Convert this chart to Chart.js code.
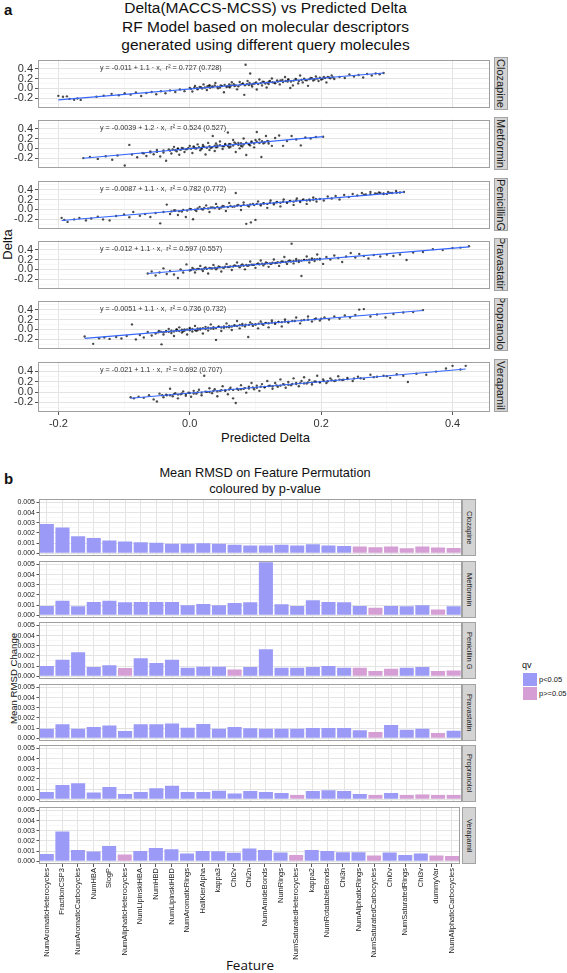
<!DOCTYPE html>
<html>
<head>
<meta charset="utf-8">
<script src="https://cdn.jsdelivr.net/npm/chart.js@4.4.1/dist/chart.umd.min.js"></script>
<style>
  body { margin: 0; width: 567px; height: 973px; position: relative; background: #fff; overflow: hidden;
         font-family: "Liberation Sans", Arial, sans-serif; color: #111; }
  canvas { position: absolute; }
  .txt { position: absolute; white-space: nowrap; }
  .strip { position: absolute; background: #d4d4d4; border: 1px solid #a3a3a3; box-sizing: border-box;
           writing-mode: vertical-rl; overflow: hidden; color: #1a1a1a;
           display: flex; align-items: center; justify-content: center; }
  .sw { position: absolute; width: 14px; height: 13px; }
</style>
</head>
<body>

<div class="txt" style="left:4px;top:1px;font-size:15px;font-weight:bold">a</div>
<div class="txt" style="left:0;top:-1px;width:531px;text-align:center;font-size:15.5px;line-height:18.5px;white-space:normal">
  Delta(MACCS-MCSS) vs Predicted Delta<br>RF Model based on molecular descriptors<br>generated using different query molecules
</div>
<div class="txt" style="left:0;top:430px;width:531px;text-align:center;font-size:13px">Predicted Delta</div>
<div class="txt" style="left:-13px;top:237px;width:40px;text-align:center;font-size:13px;transform:rotate(-90deg)">Delta</div>

<div class="txt" style="left:4px;top:470px;font-size:15px;font-weight:bold">b</div>
<div class="txt" style="left:0;top:465px;width:530px;text-align:center;font-size:12.8px;line-height:16px;white-space:normal">
  Mean RMSD on Feature Permutation<br>coloured by p-value
</div>
<div class="txt" style="left:-37px;top:673px;width:100px;text-align:center;font-size:9.6px;transform:rotate(-90deg)">Mean RMSD Change</div>
<div class="txt" style="left:0;top:956px;width:500px;text-align:center;font-size:13.5px;font-family:'Open Sans',sans-serif">Feature</div>

<div class="txt" style="left:522px;top:660px;font-size:9px">qv</div>
<div class="sw" style="left:523px;top:673px;background:#9b9bf7"></div>
<div class="sw" style="left:523px;top:687px;background:#d59ed5"></div>
<div class="txt" style="left:539px;top:675px;font-size:7.5px">p&lt;0.05</div>
<div class="txt" style="left:539px;top:689px;font-size:7.5px">p&gt;=0.05</div>

<script>
// ---------- panel a data ----------
const queries = ["Clozapine", "Metformin", "PenicillinG", "Pravastatin", "Propranolol", "Verapamil"];
const queryStrips = ["Clozapine", "Metformin", "Penicillin G", "Pravastatin", "Propranolol", "Verapamil"];
const eqTexts = [
  "y = -0.011 + 1.1 · x,  r² = 0.727 (0.728)",
  "y = -0.0039 + 1.2 · x,  r² = 0.524 (0.527)",
  "y = -0.0087 + 1.1 · x,  r² = 0.782 (0.772)",
  "y = -0.012 + 1.1 · x,  r² = 0.597 (0.557)",
  "y = -0.0051 + 1.1 · x,  r² = 0.736 (0.732)",
  "y = -0.021 + 1.1 · x,  r² = 0.692 (0.707)"
];
const xTicksA = [-0.2, 0.0, 0.2, 0.4];
const yTicksA = [-0.2, 0.0, 0.2, 0.4];

const clozapinePts = [[-0.200,-0.150],[-0.193,-0.168],[-0.187,-0.160],[-0.183,-0.212],[-0.176,-0.228],[-0.171,-0.205],[-0.166,-0.232],
  [-0.142,-0.168],[-0.131,-0.148],[-0.119,-0.110],[-0.108,-0.138],[-0.099,-0.098],[-0.090,-0.126],[-0.082,-0.082],[-0.074,-0.152],
  [-0.066,-0.092],[-0.058,-0.072],[-0.051,-0.118],[-0.044,-0.058],[-0.037,-0.098],[-0.030,-0.040],[-0.022,-0.072],[-0.015,-0.020],
  [-0.008,-0.055],[0.000,0.012],[0.004,-0.062],[0.008,0.048],[0.012,-0.018],[0.017,0.024],[0.021,0.082],[0.026,-0.032],[0.030,0.058],
  [0.034,0.040],[0.039,0.112],[0.043,0.002],[0.047,0.062],[0.052,-0.078],[0.056,0.030],[0.060,0.082],[0.064,0.124],[0.068,0.050],
  [0.072,-0.018],[0.076,0.132],[0.080,0.092],[0.083,-0.130],[0.085,0.480],[0.088,0.152],[0.092,0.302],[0.095,0.040],[0.099,0.102],
  [0.102,-0.022],[0.106,0.182],[0.110,0.062],[0.113,0.132],[0.117,0.020],[0.121,0.142],[0.125,0.202],[0.129,0.112],[0.133,0.162],
  [0.137,0.082],[0.141,0.172],[0.145,0.232],[0.149,0.142],[0.153,0.010],[0.157,0.062],[0.161,0.192],[0.165,0.102],[0.168,0.262],
  [0.172,0.122],[0.176,0.172],[0.180,0.052],[0.184,0.212],[0.188,0.162],[0.192,0.242],[0.196,0.152],[0.200,0.182],[0.204,0.232],
  [0.208,0.122],[0.212,0.222],[0.216,0.262],[0.220,0.192],[0.030,0.060],[0.060,0.040],[0.090,0.070],[0.120,0.090],[0.150,0.180],
  [0.228,0.232],[0.236,0.212],[0.243,0.282],[0.250,0.242],[0.257,0.272],[0.264,0.222],[0.270,0.292],[0.277,0.262],[0.283,0.302],
  [0.289,0.288],[0.295,0.312],
  [0.002,-0.008],[0.007,0.015],[0.011,0.003],[0.015,0.030],[0.019,-0.002],[0.023,0.020],[0.027,0.045],[0.031,0.012],[0.035,0.028],
  [0.038,0.060],[0.042,0.035],[0.046,0.018],[0.049,0.048],[0.053,0.070],[0.057,0.042],[0.061,0.025],[0.063,0.058],[0.067,0.085],
  [0.070,0.062],[0.074,0.045],[0.077,0.078],[0.081,0.102],[0.084,0.066],[0.087,0.088],[0.091,0.112],[0.094,0.075],[0.097,0.095],
  [0.101,0.120],[0.104,0.088],[0.108,0.108],[0.111,0.135],[0.115,0.098],[0.118,0.118],[0.122,0.150],[0.126,0.125],[0.130,0.105],
  [0.134,0.138],[0.138,0.160],[0.142,0.128],[0.146,0.150],[0.150,0.175],[0.154,0.140],[0.158,0.158],[0.162,0.182],[0.166,0.150],
  [0.170,0.172],[0.174,0.198],[0.178,0.165],[0.182,0.188],[0.186,0.205],[0.190,0.180],[0.194,0.198],[0.198,0.215],[0.202,0.192],
  [0.206,0.210],[0.210,0.232],[0.214,0.205],[0.218,0.225]];
const metforminPts = [[-0.162,-0.196],[-0.152,-0.172],[-0.140,-0.212],[-0.128,-0.158],[-0.118,-0.228],[-0.110,-0.142],[-0.099,-0.345],
  [-0.092,0.072],[-0.088,-0.122],[-0.080,-0.178],[-0.072,-0.092],[-0.066,-0.152],[-0.060,-0.062],[-0.055,-0.118],[-0.050,-0.032],
  [-0.045,-0.162],[-0.040,-0.082],[-0.036,-0.248],[-0.032,-0.022],[-0.028,-0.102],[-0.024,0.032],[-0.020,-0.058],[-0.016,-0.128],
  [-0.012,0.012],[-0.008,-0.072],[-0.004,-0.012],[0.000,0.052],[0.004,-0.092],[0.008,0.002],[0.012,0.082],[0.016,-0.038],[0.020,0.032],
  [0.024,-0.122],[0.028,0.112],[0.032,0.012],[0.035,0.252],[0.038,-0.052],[0.042,0.062],[0.046,0.142],[0.050,-0.012],[0.054,0.092],
  [0.058,0.322],[0.062,0.032],[0.066,0.172],[0.070,-0.072],[0.074,0.112],[0.078,0.052],[0.082,0.202],[0.086,-0.132],[0.090,0.082],
  [0.094,0.142],[0.098,0.022],[0.102,0.332],[0.106,0.182],[0.109,-0.172],[0.112,0.102],[0.116,0.252],[0.120,0.142],[0.125,0.052],
  [0.130,0.212],[0.136,0.262],[0.142,0.052],[0.148,0.152],[0.155,0.252],[0.162,0.182],[0.169,0.062],[0.176,0.222],[0.184,0.202],
  [0.192,0.232],[0.203,0.236],[-0.018,0.002],[0.006,0.042],[0.018,-0.008],[0.040,0.022],[0.060,0.092],[0.076,0.002],[0.092,0.062],
  [0.030,-0.032],[0.052,0.042],[0.068,0.122],
  [-0.030,-0.045],[-0.026,-0.020],[-0.022,-0.035],[-0.018,-0.010],[-0.014,-0.030],[-0.010,0.000],[-0.006,-0.018],[-0.002,0.010],
  [0.002,-0.005],[0.006,0.018],[0.010,0.000],[0.014,0.025],[0.018,0.008],[0.022,0.035],[0.026,0.015],[0.030,0.045],[0.034,0.022],
  [0.038,0.055],[0.042,0.030],[0.046,0.068],[0.050,0.045],[0.054,0.075],[0.058,0.050],[0.062,0.088],[0.066,0.060],[0.070,0.095],
  [0.074,0.070],[0.078,0.105],[0.082,0.080],[0.086,0.115],[0.090,0.090],[0.094,0.125],[0.098,0.100],[0.102,0.135],[0.106,0.110],
  [0.110,0.145],[0.114,0.120],[0.118,0.150],[-0.060,-0.080],[-0.050,-0.070],[-0.070,-0.100],[-0.040,-0.040],[0.020,0.070],
  [0.040,0.100],[0.060,0.020],[0.080,0.040],[0.100,0.170],[0.120,0.100]];
const penicillinPts = [[-0.195,-0.170],[-0.191,-0.212],[-0.186,-0.252],[-0.176,-0.202],[-0.168,-0.172],[-0.158,-0.222],[-0.150,-0.182],
  [-0.140,-0.148],[-0.132,-0.202],[-0.122,-0.222],[-0.112,-0.132],[-0.100,-0.102],[-0.092,-0.158],[-0.086,-0.052],[-0.076,-0.128],
  [-0.068,-0.092],[-0.060,-0.152],[-0.052,-0.072],[-0.045,-0.282],[-0.040,-0.052],[-0.035,0.098],[-0.030,-0.092],[-0.024,-0.022],
  [-0.018,-0.112],[-0.012,-0.042],[-0.006,-0.152],[0.000,0.012],[0.005,-0.198],[0.010,-0.032],[0.015,0.052],[0.020,-0.002],[0.025,0.082],
  [0.030,-0.052],[0.035,0.042],[0.040,0.112],[0.045,0.012],[0.050,0.072],[0.055,-0.032],[0.060,0.132],[0.065,0.052],[0.070,0.332],
  [0.074,0.092],[0.078,-0.012],[0.082,0.142],[0.086,-0.292],[0.090,0.062],[0.093,-0.262],[0.096,0.112],[0.100,-0.212],[0.104,0.162],
  [0.108,0.082],[0.113,0.122],[0.118,0.032],[0.123,0.182],[0.128,0.102],[0.133,0.152],[0.138,0.062],[0.143,0.202],[0.148,0.132],
  [0.153,0.172],[0.158,0.092],[0.163,0.222],[0.168,0.152],[0.173,0.202],[0.178,0.112],[0.183,0.182],[0.188,0.242],[0.193,0.162],
  [0.198,0.212],[0.204,0.182],[0.210,0.262],[0.216,0.222],[0.222,0.272],[0.228,0.202],[0.235,0.292],[0.242,0.252],[0.248,0.312],
  [0.255,0.282],[0.262,0.332],[0.268,0.302],[0.275,0.352],[0.282,0.322],[0.288,0.342],[0.295,0.312],[0.302,0.352],[0.308,0.332],
  [0.314,0.372],[0.320,0.342],[0.326,0.352],
  [-0.028,-0.040],[-0.022,-0.020],[-0.016,-0.035],[-0.010,-0.008],[-0.004,-0.020],[0.002,0.005],[0.008,-0.005],[0.012,0.020],
  [0.018,0.008],[0.022,0.030],[0.028,0.018],[0.032,0.040],[0.038,0.028],[0.042,0.050],[0.048,0.038],[0.052,0.062],[0.058,0.048],
  [0.062,0.070],[0.068,0.058],[0.072,0.080],[0.078,0.070],[0.082,0.092],[0.088,0.080],[0.092,0.102],[0.098,0.090],[0.102,0.112],
  [0.108,0.100],[0.112,0.125],[0.118,0.112],[0.122,0.135],[0.128,0.125],[0.132,0.145],[0.138,0.135],[0.142,0.158],[0.148,0.148],
  [0.152,0.168],[0.158,0.158],[0.162,0.180],[0.168,0.170],[0.172,0.190],[0.178,0.182],[0.182,0.200],[0.188,0.195],[0.192,0.212],
  [0.265,0.300],[0.275,0.310],[0.285,0.318],[0.295,0.325],[0.305,0.335],[0.315,0.340],[0.300,0.315],[0.290,0.335]];
const pravastatinPts = [[-0.064,-0.082],[-0.058,-0.042],[-0.052,-0.122],[-0.046,-0.062],[-0.040,0.022],[-0.035,-0.092],[-0.030,-0.032],
  [-0.024,-0.102],[-0.018,-0.172],[-0.014,0.002],[-0.010,-0.062],[-0.005,0.102],[0.000,-0.022],[0.004,0.032],[0.008,-0.062],[0.012,0.012],
  [0.016,0.072],[0.020,-0.032],[0.024,0.042],[0.028,-0.082],[0.032,0.022],[0.036,0.092],[0.040,0.002],[0.044,0.062],[0.048,-0.042],
  [0.052,0.032],[0.056,0.112],[0.060,0.052],[0.064,-0.012],[0.068,0.082],[0.072,0.142],[0.076,0.042],[0.080,0.102],[0.084,0.002],
  [0.088,0.072],[0.092,0.162],[0.096,0.092],[0.100,0.032],[0.104,0.122],[0.108,0.182],[0.112,0.082],[0.116,0.142],[0.120,0.052],
  [0.124,0.112],[0.128,0.202],[0.132,0.132],[0.136,0.072],[0.140,0.162],[0.144,0.252],[0.148,0.112],[0.152,0.182],[0.155,0.522],
  [0.158,0.122],[0.162,0.212],[0.166,0.152],[0.170,-0.132],[0.174,0.192],[0.178,0.262],[0.182,0.142],[0.186,0.222],[0.190,0.172],
  [0.194,0.302],[0.198,0.202],[0.203,0.112],[0.208,0.252],[0.214,0.202],[0.220,0.282],[0.226,0.232],[0.232,0.152],[0.238,0.262],
  [0.245,0.332],[0.252,0.242],[0.258,0.312],[0.265,0.272],[0.272,0.222],[0.280,0.292],[0.290,0.262],[0.300,0.302],[0.310,0.272],
  [0.320,0.302],[0.330,0.192],[0.340,0.342],[0.355,0.352],[0.370,0.412],[0.385,0.392],[0.400,0.432],[0.412,0.442],[0.425,0.472],
  [0.002,-0.010],[0.006,0.005],[0.010,-0.002],[0.014,0.010],[0.018,0.002],[0.022,0.018],[0.026,0.012],[0.030,0.028],[0.034,0.020],
  [0.038,0.035],[0.042,0.030],[0.046,0.045],[0.050,0.038],[0.054,0.055],[0.058,0.048],[0.062,0.062],[0.066,0.058],[0.070,0.072],
  [0.074,0.068],[0.078,0.080],[0.082,0.075],[0.086,0.090],[0.090,0.085],[0.094,0.098],[0.098,0.095],[0.102,0.108],[0.106,0.102],
  [0.110,0.118],[0.114,0.112],[0.118,0.125],[0.122,0.122],[0.126,0.135],[0.130,0.130],[0.134,0.145],[0.138,0.140],[0.142,0.155],
  [0.146,0.150],[0.150,0.165],[0.154,0.160],[0.158,0.172],[0.162,0.170],[0.166,0.182],[0.170,0.178],[0.174,0.190],[0.178,0.188],
  [0.182,0.198],[0.186,0.195],[0.190,0.208],[0.194,0.205],[0.198,0.215]];
const propranololPts = [[-0.160,-0.142],[-0.147,-0.292],[-0.138,-0.178],[-0.130,-0.162],[-0.122,-0.192],[-0.112,-0.152],[-0.104,-0.182],
  [-0.096,-0.132],[-0.088,0.102],[-0.082,-0.202],[-0.076,-0.112],[-0.070,-0.162],[-0.064,-0.052],[-0.058,-0.122],[-0.052,-0.082],
  [-0.047,-0.032],[-0.043,-0.302],[-0.040,-0.102],[-0.036,-0.042],[-0.032,0.012],[-0.028,-0.072],[-0.024,-0.132],[-0.020,-0.022],
  [-0.016,0.042],[-0.012,-0.062],[-0.008,0.002],[-0.004,-0.102],[0.000,0.032],[0.004,-0.042],[0.008,0.072],[0.012,-0.012],[0.016,0.022],
  [0.020,-0.082],[0.024,0.052],[0.028,-0.022],[0.032,0.102],[0.036,0.012],[0.040,-0.212],[0.044,0.062],[0.048,-0.032],[0.052,0.032],
  [0.056,0.122],[0.060,0.042],[0.064,-0.012],[0.068,0.082],[0.072,0.172],[0.076,0.022],[0.080,0.112],[0.084,0.062],[0.089,-0.152],
  [0.092,0.142],[0.096,0.072],[0.100,0.102],[0.104,0.022],[0.108,0.162],[0.112,0.092],[0.116,0.132],[0.120,0.042],[0.125,0.182],
  [0.130,0.112],[0.135,0.152],[0.140,0.062],[0.145,0.202],[0.150,0.142],[0.156,0.172],[0.162,0.242],[0.168,0.122],[0.174,0.192],
  [0.180,0.262],[0.186,0.162],[0.192,0.222],[0.198,0.182],[0.205,0.242],[0.212,0.202],[0.220,0.262],[0.228,0.222],[0.236,0.282],
  [0.244,0.242],[0.252,0.292],[0.258,0.402],[0.265,0.412],[0.275,0.262],[0.285,0.302],[0.298,0.242],[0.310,0.312],[0.325,0.342],
  [0.340,0.352],[0.355,0.392],
  [-0.048,-0.060],[-0.044,-0.045],[-0.040,-0.055],[-0.036,-0.035],[-0.032,-0.048],[-0.028,-0.025],[-0.024,-0.040],[-0.020,-0.015],
  [-0.016,-0.032],[-0.012,-0.005],[-0.008,-0.025],[-0.004,0.000],[0.000,-0.018],[0.004,0.008],[0.008,-0.010],[0.012,0.018],
  [0.016,0.000],[0.020,0.025],[0.024,0.010],[0.028,0.035],[0.032,0.020],[0.036,0.045],[0.040,0.030],[0.044,0.052],[0.048,0.040],
  [0.052,0.062],[0.056,0.050],[0.060,0.072],[0.064,0.060],[0.068,0.080],[0.072,0.070],[0.076,0.090],[0.080,0.080],[0.085,0.098],
  [0.090,0.092],[0.095,0.108],[0.100,0.102],[0.105,0.118],[0.110,0.115],[0.115,0.128],[0.120,0.125],[0.125,0.140],[0.130,0.135],
  [0.135,0.150],[0.140,0.148],[0.145,0.160],[0.150,0.158],[0.160,0.172],[0.170,0.182],[0.180,0.195],[0.190,0.205],[0.200,0.218],
  [-0.020,0.005],[-0.010,-0.040],[0.000,0.010],[0.010,-0.030]];
const verapamilPts = [[-0.090,-0.102],[-0.085,-0.122],[-0.078,-0.092],[-0.070,-0.112],[-0.062,-0.062],[-0.055,-0.142],[-0.050,-0.182],
  [-0.046,-0.032],[-0.040,-0.102],[-0.035,-0.062],[-0.030,0.062],[-0.026,-0.082],[-0.022,-0.022],[-0.018,-0.122],[-0.014,-0.042],
  [-0.010,0.012],[-0.006,-0.072],[-0.002,-0.012],[0.002,-0.092],[0.006,0.022],[0.010,-0.032],[0.014,0.042],[0.018,-0.062],[0.022,0.312],
  [0.026,0.002],[0.030,0.072],[0.034,-0.022],[0.038,0.052],[0.042,-0.082],[0.046,0.022],[0.050,0.112],[0.054,0.032],[0.058,-0.042],
  [0.062,0.082],[0.066,-0.122],[0.070,-0.212],[0.074,0.042],[0.078,0.132],[0.082,0.062],[0.086,-0.012],[0.090,0.102],[0.094,0.172],
  [0.098,0.052],[0.102,0.122],[0.106,0.022],[0.110,0.152],[0.114,0.092],[0.118,0.212],[0.122,0.122],[0.126,0.062],[0.130,0.172],
  [0.134,0.102],[0.138,0.242],[0.142,0.152],[0.146,0.082],[0.150,0.192],[0.154,0.132],[0.158,0.262],[0.162,0.172],[0.166,0.112],
  [0.170,0.212],[0.174,0.282],[0.178,0.162],[0.182,0.232],[0.186,0.142],[0.190,0.202],[0.194,0.312],[0.198,0.182],[0.203,0.242],
  [0.208,0.172],[0.214,0.262],[0.220,0.212],[0.226,0.302],[0.232,0.232],[0.240,0.272],[0.248,0.212],[0.256,0.292],[0.265,0.252],
  [0.275,0.332],[0.285,0.292],[0.295,0.312],[0.305,0.272],[0.315,0.342],[0.325,0.312],[0.332,0.192],[0.345,0.352],[0.360,0.332],
  [0.375,0.392],[0.390,0.452],[0.400,0.502],[0.412,0.432],[0.420,0.502],
  [-0.042,-0.060],[-0.036,-0.050],[-0.030,-0.062],[-0.024,-0.040],[-0.018,-0.050],[-0.012,-0.030],[-0.006,-0.040],[0.000,-0.018],
  [0.006,-0.028],[0.012,-0.005],[0.018,-0.012],[0.024,0.008],[0.030,0.000],[0.036,0.022],[0.042,0.012],[0.048,0.035],[0.054,0.025],
  [0.060,0.048],[0.066,0.040],[0.072,0.062],[0.078,0.052],[0.084,0.075],[0.090,0.068],[0.096,0.088],[0.102,0.080],[0.108,0.102],
  [0.114,0.095],[0.120,0.115],[0.126,0.110],[0.132,0.128],[0.138,0.122],[0.144,0.142],[0.150,0.138],[0.156,0.155],[0.162,0.152],
  [0.168,0.170],[0.174,0.165],[0.180,0.185],[0.186,0.180],[0.192,0.198],[0.198,0.195],[0.204,0.212],[0.210,0.208],[0.216,0.225],
  [0.222,0.222],[0.228,0.238],[0.234,0.235],[0.240,0.250],[0.250,0.258],[0.260,0.265],[0.280,0.285],[0.300,0.305]];
const scatterSets = [clozapinePts, metforminPts, penicillinPts, pravastatinPts, propranololPts, verapamilPts];

// fitted lines, end points
const fitLines = [
  [[-0.200,-0.231],[0.295,0.313]],
  [[-0.162,-0.198],[0.203,0.240]],
  [[-0.195,-0.223],[0.326,0.350]],
  [[-0.064,-0.082],[0.425,0.456]],
  [[-0.160,-0.181],[0.355,0.385]],
  [[-0.090,-0.120],[0.420,0.441]]
];

// ---------- panel b data ----------
const features = ["NumAromaticHeterocycles","FractionCSP3","NumAromaticCarbocycles","NumHBA","SlogP",
  "NumAliphaticHeterocycles","NumLipinskiHBA","NumHBD","NumLipinskiHBD","NumAromaticRings","HallKierAlpha",
  "kappa3","Chi2v","Chi2n","NumAmideBonds","NumRings","NumSaturatedHeterocycles","kappa2","NumRotatableBonds",
  "Chi3n","NumAliphaticRings","NumSaturatedCarbocycles","Chi0v","NumSaturatedRings","Chi3v","dummyVar",
  "NumAliphaticCarbocycles"];
const rmsdClozapine = [0.00287,0.00253,0.00167,0.00150,0.00126,0.00116,0.00109,0.00102,0.00092,0.00092,0.00099,0.00092,0.00082,0.00075,
  0.00075,0.00082,0.00075,0.00089,0.00075,0.00072,0.00065,0.00058,0.00065,0.00048,0.00065,0.00055,0.00051];
const rmsdMetformin = [0.00090,0.00143,0.00087,0.00130,0.00143,0.00127,0.00130,0.00130,0.00130,0.00097,0.00110,0.00097,0.00120,0.00127,
  0.00523,0.00107,0.00090,0.00147,0.00130,0.00127,0.00090,0.00073,0.00090,0.00087,0.00097,0.00057,0.00087];
const rmsdPenicillin = [0.00100,0.00163,0.00237,0.00090,0.00107,0.00080,0.00177,0.00130,0.00163,0.00083,0.00093,0.00093,0.00067,0.00090,
  0.00267,0.00083,0.00083,0.00090,0.00100,0.00083,0.00083,0.00050,0.00073,0.00083,0.00090,0.00050,0.00057];
const rmsdPravastatin = [0.00094,0.00138,0.00094,0.00110,0.00124,0.00070,0.00138,0.00138,0.00145,0.00104,0.00141,0.00094,0.00110,0.00097,
  0.00094,0.00094,0.00094,0.00100,0.00100,0.00100,0.00077,0.00060,0.00131,0.00084,0.00094,0.00050,0.00074];
const rmsdPropranolol = [0.00070,0.00140,0.00157,0.00067,0.00120,0.00050,0.00070,0.00107,0.00133,0.00070,0.00070,0.00083,0.00057,0.00080,
  0.00070,0.00060,0.00040,0.00080,0.00087,0.00080,0.00050,0.00040,0.00060,0.00040,0.00047,0.00040,0.00040];
const rmsdVerapamil = [0.00072,0.00294,0.00111,0.00095,0.00150,0.00065,0.00101,0.00131,0.00118,0.00075,0.00101,0.00098,0.00082,0.00124,
  0.00111,0.00085,0.00062,0.00111,0.00101,0.00088,0.00088,0.00056,0.00085,0.00062,0.00075,0.00056,0.00052];
const rmsdSets = [rmsdClozapine, rmsdMetformin, rmsdPenicillin, rmsdPravastatin, rmsdPropranolol, rmsdVerapamil];

// 1 = p<0.05, 0 = p>=0.05
const sigClozapine   = [1,1,1,1,1,1,1,1,1,1,1,1,1,1,1,1,1,1,1,1,0,0,0,0,0,0,0];
const sigMetformin   = [1,1,1,1,1,1,1,1,1,1,1,1,1,1,1,1,1,1,1,1,1,0,1,1,1,0,1];
const sigPenicillin  = [1,1,1,1,1,0,1,1,1,1,1,1,0,1,1,1,1,1,1,1,0,0,0,1,1,0,0];
const sigPravastatin = [1,1,1,1,1,1,1,1,1,1,1,1,1,1,1,1,1,1,1,1,1,0,1,1,1,0,1];
const sigPropranolol = [1,1,1,1,1,1,1,1,1,1,1,1,1,1,1,1,0,1,1,1,1,0,1,0,0,0,0];
const sigVerapamil   = [1,1,1,1,1,0,1,1,1,1,1,1,1,1,1,1,0,1,1,1,1,0,1,1,1,0,0];
const sigSets = [sigClozapine, sigMetformin, sigPenicillin, sigPravastatin, sigPropranolol, sigVerapamil];
const yTicksB = [0.000, 0.001, 0.002, 0.003, 0.004, 0.005];

// ---------- layout ----------
const BLUE = "#9b9bf7", PINK = "#d59ed5";
const GRID = "#e3e3e3", GRID_MINOR = "#f2f2f2";
const PAD = 6;

Chart.defaults.font.family = '"Liberation Sans", Arial, sans-serif';
Chart.defaults.color = "#333";

// grey frame round each panel
Chart.register({
  id: "frame",
  afterDraw(chart) {
    const a = chart.chartArea, ctx = chart.ctx;
    ctx.save();
    ctx.strokeStyle = "#a0a0a0";
    ctx.lineWidth = 1;
    ctx.strokeRect(Math.round(a.left) + 0.5, Math.round(a.top) + 0.5, Math.round(a.width) - 1, Math.round(a.height) - 1);
    ctx.restore();
  }
});

// regression label in the top left
const eqPlugin = {
  id: "eq",
  afterDatasetsDraw(chart, args, opts) {
    if (!opts.text) return;
    const ctx = chart.ctx, a = chart.chartArea;
    ctx.save();
    ctx.font = '7.2px "Liberation Sans", Arial, sans-serif';
    ctx.fillStyle = "#333";
    ctx.textBaseline = "middle";
    ctx.fillText(opts.text, a.left + 62, a.top + 8);
    ctx.restore();
  }
};

function makeCanvas(top, w, h) {
  const c = document.createElement("canvas");
  c.width = w; c.height = h;
  c.style.left = "0px"; c.style.top = top + "px";
  c.style.width = w + "px"; c.style.height = h + "px";
  document.body.appendChild(c);
  return c;
}

function makeStrip(left, top, w, h, text, size) {
  const d = document.createElement("div");
  d.className = "strip";
  d.style.left = left + "px"; d.style.top = top + "px";
  d.style.width = w + "px"; d.style.height = h + "px";
  d.style.fontSize = size + "px";
  d.textContent = text;
  document.body.appendChild(d);
}

const near = (v, list) => list.some(t => Math.abs(v - t) < 1e-9);

// ---------- panel a: six scatter facets ----------
queries.forEach((q, i) => {
  const top = Math.round(57 + i * 60.3);
  const last = i === queries.length - 1;
  const axisH = last ? 22 : 0;
  const cv = makeCanvas(top - PAD, 494, PAD + 53 + axisH + (last ? 0 : PAD));

  new Chart(cv, {
    type: "scatter",
    data: {
      datasets: [
        { data: fitLines[i], showLine: true, borderColor: "#3366ff", borderWidth: 1.1, pointRadius: 0 },
        { data: scatterSets[i], pointRadius: 1.2, backgroundColor: "rgba(0,0,0,0.7)", borderWidth: 0 }
      ]
    },
    plugins: [eqPlugin],
    options: {
      responsive: false, animation: false, devicePixelRatio: 1,
      layout: { padding: { left: 0, right: 1, top: PAD, bottom: last ? 0 : PAD } },
      plugins: { legend: { display: false }, tooltip: { enabled: false }, eq: { text: eqTexts[i] } },
      scales: {
        x: {
          type: "linear", min: -0.231, max: 0.457,
          border: { display: false },
          afterFit: s => { s.height = axisH; },
          grid: {
            color: c => near(c.tick.value, xTicksA) ? GRID : GRID_MINOR,
            lineWidth: c => near(c.tick.value, xTicksA) ? 1 : 0.6,
            tickColor: c => near(c.tick.value, xTicksA) ? "#555" : "rgba(0,0,0,0)",
            tickLength: 3, drawTicks: last
          },
          ticks: {
            display: last, stepSize: 0.1, includeBounds: false, autoSkip: false, maxRotation: 0,
            padding: 2, color: "#333", font: { size: 11 },
            callback: v => near(v, xTicksA) ? v.toFixed(1) : ""
          }
        },
        y: {
          type: "linear", min: -0.384, max: 0.584,
          border: { display: false },
          afterFit: s => { s.width = 38; },
          grid: {
            color: c => near(c.tick.value, yTicksA) ? GRID : GRID_MINOR,
            lineWidth: c => near(c.tick.value, yTicksA) ? 1 : 0.6,
            tickColor: c => near(c.tick.value, yTicksA) ? "#555" : "rgba(0,0,0,0)",
            tickLength: 3
          },
          ticks: {
            stepSize: 0.1, includeBounds: false, autoSkip: false, padding: 2,
            color: "#333", font: { size: 11 },
            callback: v => near(v, yTicksA) ? v.toFixed(1) : ""
          }
        }
      }
    }
  });
  makeStrip(494, top, 13.5, 53, q, 11);
});

// ---------- panel b: six bar facets ----------
queryStrips.forEach((q, i) => {
  const top = Math.round(499.3 + i * 61.5);
  const last = i === queryStrips.length - 1;
  const axisH = last ? 100 : 0;
  const cv = makeCanvas(top - PAD, 462, PAD + 57 + axisH + (last ? 0 : PAD));

  new Chart(cv, {
    type: "bar",
    data: {
      labels: features,
      datasets: [{
        data: rmsdSets[i],
        backgroundColor: sigSets[i].map(s => s ? BLUE : PINK),
        borderWidth: 0, barPercentage: 0.9, categoryPercentage: 1.0
      }]
    },
    options: {
      responsive: false, animation: false, devicePixelRatio: 1,
      layout: { padding: { left: 0, right: 0.5, top: PAD, bottom: last ? 0 : PAD } },
      plugins: { legend: { display: false }, tooltip: { enabled: false } },
      scales: {
        x: {
          border: { display: false },
          afterFit: s => { s.height = axisH; },
          grid: { offset: false, color: GRID, lineWidth: 1, tickColor: "#555", tickLength: 3, drawTicks: last },
          ticks: {
            display: last, autoSkip: false, minRotation: 90, maxRotation: 90, padding: 1,
            color: "#222", font: { size: 7.5 }
          }
        },
        y: {
          min: -0.00028, max: 0.00535,
          border: { display: false },
          afterFit: s => { s.width = 39; },
          grid: {
            color: c => near(c.tick.value, yTicksB) ? GRID : GRID_MINOR,
            lineWidth: c => near(c.tick.value, yTicksB) ? 1 : 0.6,
            tickColor: c => near(c.tick.value, yTicksB) ? "#555" : "rgba(0,0,0,0)",
            tickLength: 2.5
          },
          ticks: {
            stepSize: 0.0005, includeBounds: false, autoSkip: false, padding: 1.5,
            color: "#222", font: { size: 7 },
            callback: v => near(v, yTicksB) ? v.toFixed(3) : ""
          }
        }
      }
    }
  });
  makeStrip(462, top, 14, 57, q, 7.5);
});
</script>
</body>
</html>
